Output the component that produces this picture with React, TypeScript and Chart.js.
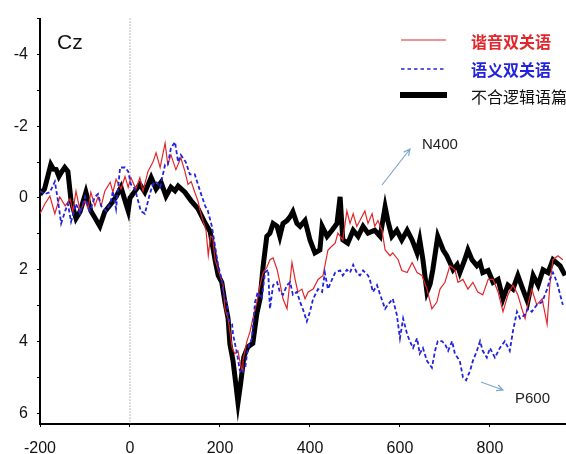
import React, { useEffect, useRef } from "react";
import { Chart, registerables } from "chart.js";

Chart.register(...registerables);

// ---- Data (time in ms, amplitude in µV; y axis is drawn negative-up) ----
const blackT = [-200,-190,-176,-170,-164,-158,-153,-145,-138,-131,-120,-111,-98,-87,-67,-56,-42,-31,-20,-9,-4,0,11,22,33,47,58,69,80,91,100,107,122,136,151,167,178,189,196,204,211,218,222,229,235,240,246,253,262,273,282,289,296,304,311,318,327,333,340,349,356,362,371,378,389,400,411,422,427,438,449,460,467,473,484,496,507,518,529,544,556,567,573,582,593,604,616,627,638,644,651,660,667,673,684,696,704,711,718,727,733,744,751,760,771,778,784,796,807,818,829,840,851,862,873,884,896,907,918,929,940,956,967];
const blackV = [-0.1,-0.25,-0.93,-0.8,-0.79,-0.6,-0.71,-0.85,-0.74,0.08,0.57,0.38,-0.16,0.36,0.79,0.38,0.16,-0.03,-0.3,0.16,0.36,0.0,-0.19,-0.38,-0.16,-0.57,-0.25,-0.44,-0.05,-0.3,-0.2,-0.33,-0.16,0.08,0.3,0.7,0.93,1.72,2.16,2.35,2.9,3.36,4.07,4.54,5.16,5.7,5.16,4.43,4.15,4.05,3.22,2.81,1.89,1.07,0.98,0.71,0.79,1.07,0.71,0.63,0.52,0.38,0.71,0.79,0.63,1.17,1.53,1.45,0.79,1.07,0.9,0.71,-0.03,1.17,1.26,0.9,1.07,0.79,0.98,0.9,1.07,0.25,0.63,1.07,0.9,1.17,0.9,1.17,1.53,1.17,1.72,2.62,2.4,2.0,1.07,1.45,1.61,1.8,2.0,1.86,2.08,1.72,1.45,1.72,1.89,1.8,2.08,2.02,2.35,2.27,2.81,2.43,2.54,2.16,2.54,2.9,2.16,2.43,2.0,2.08,1.72,1.89,2.16];

const redT = [-200,-189,-178,-167,-156,-144,-133,-127,-120,-111,-100,-93,-87,-78,-71,-64,-56,-44,-38,-31,-20,-11,-4,2,13,22,29,40,51,58,67,78,84,91,102,113,122,129,136,144,151,156,162,169,174,179,184,189,200,207,211,218,222,227,233,240,244,249,251,260,267,273,282,289,296,304,311,318,327,333,340,349,356,360,367,373,382,389,396,407,418,429,440,449,456,462,473,482,489,496,504,511,522,529,538,544,551,560,567,578,584,596,604,616,627,638,649,660,671,682,689,700,711,722,729,740,751,762,773,784,796,807,818,829,840,851,862,871,878,884,893,904,916,927,933,940,951,962];
const redV = [0.44,0.16,-0.05,0.44,-0.03,0.22,0.03,0.38,-0.19,0.36,0.08,0.3,-0.16,0.22,-0.03,0.22,-0.19,-0.44,-0.16,-0.52,-0.25,-0.6,-0.3,-0.57,-0.25,-0.57,-0.19,-0.74,-1.0,-1.26,-0.85,-1.53,-0.93,-1.2,-0.79,-1.12,-0.74,-0.38,-0.46,-0.16,0.08,0.36,0.63,0.9,1.6,1.07,1.1,1.72,2.16,2.43,3.09,3.36,3.72,4.18,4.34,4.26,4.53,4.8,4.53,3.99,3.72,3.36,2.9,2.43,2.08,1.94,1.72,1.67,2.0,2.35,2.81,3.09,2.27,1.8,2.27,2.62,2.54,2.81,2.62,2.54,2.27,2.16,1.45,1.34,1.26,0.98,1.17,0.36,0.71,0.44,0.79,0.63,0.36,0.71,0.44,0.79,0.63,0.9,1.45,1.61,1.53,1.72,2.02,2.08,1.8,2.08,2.16,2.54,3.09,2.9,2.54,2.35,1.89,2.0,2.35,2.27,2.54,2.35,2.62,2.7,2.27,2.27,2.62,3.17,2.7,2.43,2.7,3.09,3.36,2.98,2.54,2.98,2.81,3.52,2.43,1.72,1.61,1.72];

const blueT = [-200,-189,-178,-167,-160,-153,-144,-138,-131,-120,-111,-100,-89,-78,-71,-64,-53,-44,-38,-31,-22,-11,-4,2,11,18,24,33,44,51,58,67,78,84,91,100,107,113,124,133,144,151,158,167,173,182,189,196,204,207,216,218,227,229,238,244,249,256,262,271,278,284,293,300,307,311,318,327,333,340,349,356,362,371,378,384,393,400,407,418,427,433,440,449,456,467,473,482,489,496,504,511,518,529,533,540,549,556,567,573,584,593,600,607,616,622,629,638,644,651,660,671,678,684,693,700,707,716,722,733,740,747,756,762,771,778,784,793,800,811,822,833,844,851,860,867,878,884,893,904,916,927,933,940,949,956,962];
const blueV = [-0.19,-0.11,-0.16,-0.46,0.08,0.71,0.36,0.16,0.66,0.16,0.44,-0.03,0.36,-0.03,-0.11,0.22,0.36,0.16,-0.19,0.3,-0.85,-0.85,-0.74,-0.38,-0.25,0.08,0.36,0.44,-0.11,-0.38,-0.46,-0.3,-0.93,-0.93,-1.39,-1.56,-1.0,-1.2,-1.0,-0.66,-0.66,-0.38,-0.11,0.22,0.36,0.79,1.34,1.89,2.27,2.62,2.98,3.36,3.52,3.8,4.34,4.8,4.89,4.73,4.18,3.91,2.9,2.62,2.81,2.08,2.0,3.09,2.43,2.35,2.62,2.7,2.43,2.35,2.7,2.62,2.9,3.09,3.44,3.17,2.81,2.54,2.62,2.08,2.54,2.27,2.08,2.02,2.16,2.0,2.08,1.86,2.08,2.16,2.02,2.16,2.27,2.62,2.43,2.7,3.09,2.98,2.81,3.25,3.91,3.36,3.8,3.99,4.18,3.91,4.34,4.18,4.54,4.73,4.26,3.99,3.99,4.07,4.26,3.99,4.34,4.54,5.0,5.08,4.81,4.54,4.26,3.99,4.26,4.45,4.18,4.45,4.18,3.99,4.26,3.72,3.17,3.36,3.25,3.09,3.17,2.98,2.9,2.54,2.27,2.08,2.35,2.7,2.98];

const legendLabels = ["谐音双关语", "语义双关语", "不合逻辑语篇"];
const xTickValues = [-200, 0, 200, 400, 600, 800];
const yTickLabelValues = [-4, -2, 0, 2, 4, 6];

const RED = "#e3262b";
const BLUE = "#2323dc";
const BLACK = "#000000";
const ARROW = "#7ba7cf";

function toPoints(t: number[], v: number[]) {
  return t.map((x, i) => ({ x, y: v[i] }));
}

function arrow(ctx: CanvasRenderingContext2D, x1: number, y1: number, x2: number, y2: number) {
  ctx.save();
  ctx.strokeStyle = ARROW;
  ctx.lineWidth = 1.2;
  ctx.beginPath();
  ctx.moveTo(x1, y1);
  ctx.lineTo(x2, y2);
  const a = Math.atan2(y2 - y1, x2 - x1);
  const h = 7;
  ctx.moveTo(x2 - h * Math.cos(a - 0.45), y2 - h * Math.sin(a - 0.45));
  ctx.lineTo(x2, y2);
  ctx.lineTo(x2 - h * Math.cos(a + 0.45), y2 - h * Math.sin(a + 0.45));
  ctx.stroke();
  ctx.restore();
}

const overlayPlugin = {
  id: "overlay",
  beforeDatasetsDraw(chart: any) {
    const { ctx, chartArea, scales } = chart;
    const x0 = scales.x.getPixelForValue(0);
    ctx.save();
    ctx.strokeStyle = "#777";
    ctx.lineWidth = 1;
    ctx.setLineDash([1, 2]);
    ctx.beginPath();
    ctx.moveTo(x0, chartArea.top);
    ctx.lineTo(x0, chartArea.bottom);
    ctx.stroke();
    ctx.restore();
  },
  afterDraw(chart: any) {
    const ctx: CanvasRenderingContext2D = chart.ctx;
    ctx.save();
    // Cz label
    ctx.fillStyle = "#111";
    ctx.font = "21px 'Liberation Sans', Arial, sans-serif";
    ctx.textBaseline = "middle";
    ctx.textAlign = "left";
    ctx.fillText("Cz", 57, 43);

    // legend samples
    ctx.strokeStyle = RED;
    ctx.lineWidth = 1.2;
    ctx.beginPath();
    ctx.moveTo(401, 40);
    ctx.lineTo(446, 40);
    ctx.stroke();

    ctx.strokeStyle = BLUE;
    ctx.lineWidth = 1.3;
    ctx.setLineDash([3.5, 3]);
    ctx.beginPath();
    ctx.moveTo(401, 69);
    ctx.lineTo(446, 69);
    ctx.stroke();
    ctx.setLineDash([]);

    ctx.strokeStyle = BLACK;
    ctx.lineWidth = 6;
    ctx.beginPath();
    ctx.moveTo(400, 95);
    ctx.lineTo(447, 95);
    ctx.stroke();

    const cjk = "'Noto Sans CJK SC', sans-serif";
    ctx.font = "bold 16px " + cjk;
    ctx.fillStyle = RED;
    ctx.fillText(legendLabels[0], 471, 42);
    ctx.fillStyle = BLUE;
    ctx.fillText(legendLabels[1], 471, 70);
    ctx.font = "16px " + cjk;
    ctx.fillStyle = "#111";
    ctx.fillText(legendLabels[2], 471, 97);

    // component labels
    ctx.font = "15px 'Liberation Sans', Arial, sans-serif";
    ctx.fillStyle = "#222";
    ctx.fillText("N400", 422, 145);
    ctx.fillText("P600", 515, 399);
    ctx.restore();

    arrow(ctx, 382, 185, 410, 149);
    arrow(ctx, 481, 382, 503, 390);
  },
};

export default function App() {
  const ref = useRef<HTMLCanvasElement | null>(null);

  useEffect(() => {
    document.body.style.margin = "0";
    const canvas = ref.current;
    if (!canvas) return;
    const chart = new Chart(canvas, {
      type: "line",
      data: {
        datasets: [
          {
            label: legendLabels[1],
            data: toPoints(blueT, blueV),
            borderColor: BLUE,
            borderWidth: 1.8,
            borderDash: [4, 2.5],
            pointRadius: 0,
            tension: 0,
            fill: false,
          },
          {
            label: legendLabels[0],
            data: toPoints(redT, redV),
            borderColor: RED,
            borderWidth: 1.2,
            pointRadius: 0,
            tension: 0,
            fill: false,
          },
          {
            label: legendLabels[2],
            data: toPoints(blackT, blackV),
            borderColor: BLACK,
            borderWidth: 5,
            pointRadius: 0,
            tension: 0,
            fill: false,
          },
        ],
      },
      options: {
        responsive: false,
        animation: false,
        devicePixelRatio: 1,
        layout: { padding: { top: 10, left: 0, right: 0, bottom: 0 } },
        plugins: {
          legend: { display: false },
          tooltip: { enabled: false },
        },
        scales: {
          x: {
            type: "linear",
            min: -200,
            max: 969,
            afterBuildTicks: (scale: any) => {
              scale.ticks = xTickValues.map((value) => ({ value }));
            },
            afterFit: (scale: any) => {
              scale.height = 30;
            },
            grid: {
              drawOnChartArea: false,
              drawTicks: true,
              tickLength: 3,
              color: "#000",
              lineWidth: 1,
            },
            border: { display: true, color: "#000", width: 2 },
            ticks: {
              color: "#111",
              font: { family: "'Liberation Sans', Arial, sans-serif", size: 16 },
              padding: 12,
              maxRotation: 0,
              autoSkip: false,
            },
          },
          y: {
            type: "linear",
            reverse: true,
            min: -5,
            max: 6.3,
            afterBuildTicks: (scale: any) => {
              const arr: { value: number }[] = [];
              for (let v = -5; v <= 6; v++) arr.push({ value: v });
              scale.ticks = arr;
            },
            afterFit: (scale: any) => {
              scale.width = 40;
            },
            grid: {
              drawOnChartArea: false,
              drawTicks: true,
              tickLength: 3,
              color: "#000",
              lineWidth: 1,
            },
            border: { display: true, color: "#000", width: 2 },
            ticks: {
              color: "#111",
              font: { family: "'Liberation Sans', Arial, sans-serif", size: 16 },
              padding: 9,
              autoSkip: false,
              callback: (value: any) =>
                yTickLabelValues.includes(Number(value)) ? String(value) : "",
            },
          },
        },
      },
      plugins: [overlayPlugin],
    });
    return () => chart.destroy();
  }, []);

  return (
    <div style={{ width: 566, height: 454 }}>
      <canvas ref={ref} width={566} height={454} style={{ display: "block" }} />
    </div>
  );
}
